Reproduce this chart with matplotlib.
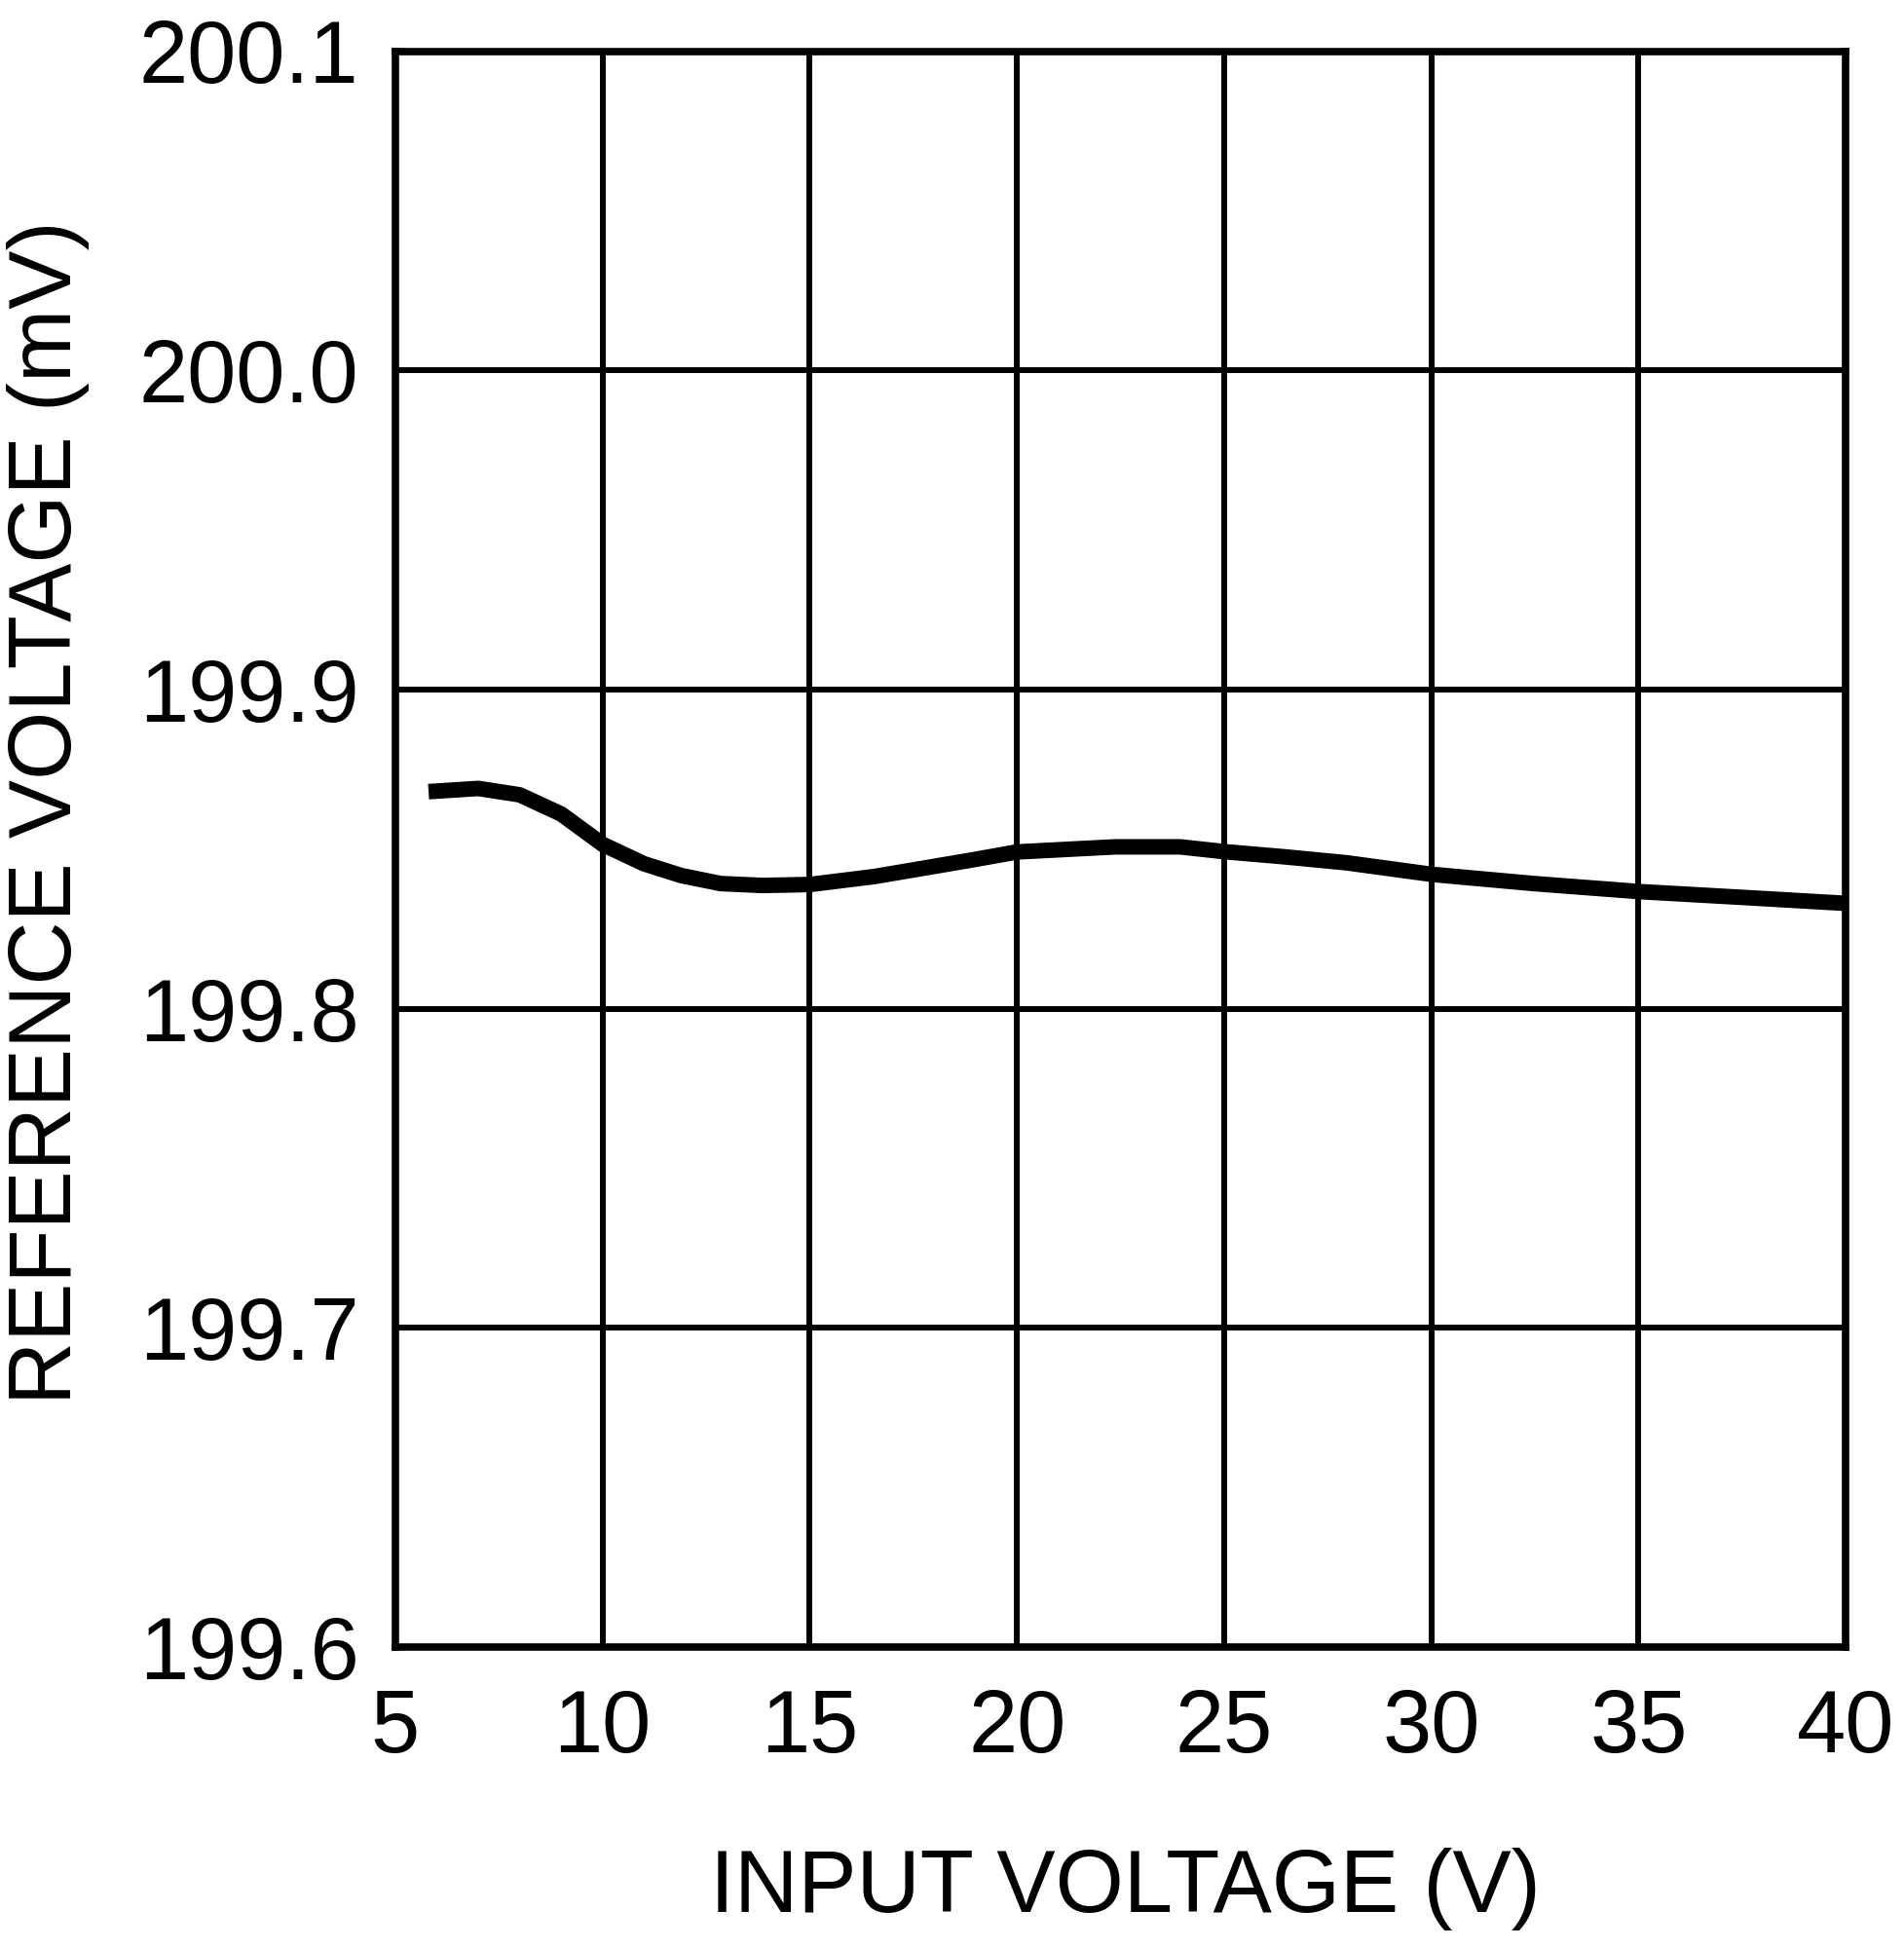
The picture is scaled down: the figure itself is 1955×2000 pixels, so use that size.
import matplotlib
matplotlib.use("Agg")
import matplotlib.pyplot as plt

input_v = [5.8, 7, 8, 9, 10, 11, 11.9, 12.85, 13.87, 15, 16.56, 17.74, 18.92, 20,
           22.37, 23.94, 25, 26.44, 27.96, 30, 32.47, 35, 37.73, 40]
ref_mv = [199.868, 199.869, 199.867, 199.861, 199.8515, 199.8454, 199.8417, 199.8392,
          199.8386, 199.8389, 199.8414, 199.8440, 199.8466, 199.8491, 199.8507,
          199.8507, 199.8492, 199.8476, 199.8457, 199.8421, 199.8392, 199.8367,
          199.8347, 199.833]
x_ticks = [5, 10, 15, 20, 25, 30, 35, 40]
y_ticks = [199.6, 199.7, 199.8, 199.9, 200.0, 200.1]
y_tick_labels = ["199.6", "199.7", "199.8", "199.9", "200.0", "200.1"]

plt.rcParams['font.family'] = ['Liberation Sans', 'DejaVu Sans']

W, H = 1956, 2000
fig = plt.figure(figsize=(W / 100, H / 100), dpi=100)
ax = fig.add_axes([406 / W, 1 - 1691 / H, (1895 - 406) / W, (1691 - 52.5) / H])

ax.plot(input_v, ref_mv, color='black', lw=11.5, solid_capstyle='butt',
        solid_joinstyle='round', zorder=3)

ax.set_xlim(5, 40)
ax.set_ylim(199.6, 200.1)
ax.set_xticks(x_ticks)
ax.set_yticks(y_ticks)
ax.set_yticklabels(y_tick_labels)
ax.grid(True, color='black', lw=4.3)
for s in ax.spines.values():
    s.set_linewidth(5.5)
    s.set_zorder(4)
ax.tick_params(axis='both', length=0, labelsize=65)
ax.tick_params(axis='y', pad=27)
ax.tick_params(axis='x', pad=30)

fig.text(50 / W, 1 - 834 / H, "REFERENCE VOLTAGE (mV)", rotation=90,
         ha='center', va='center', fontsize=65)
fig.text(1155 / W, 1 - 1963 / H, "INPUT VOLTAGE (V)", ha='center',
         va='baseline', fontsize=65)

fig.savefig("out.png", dpi=100, facecolor='white')
